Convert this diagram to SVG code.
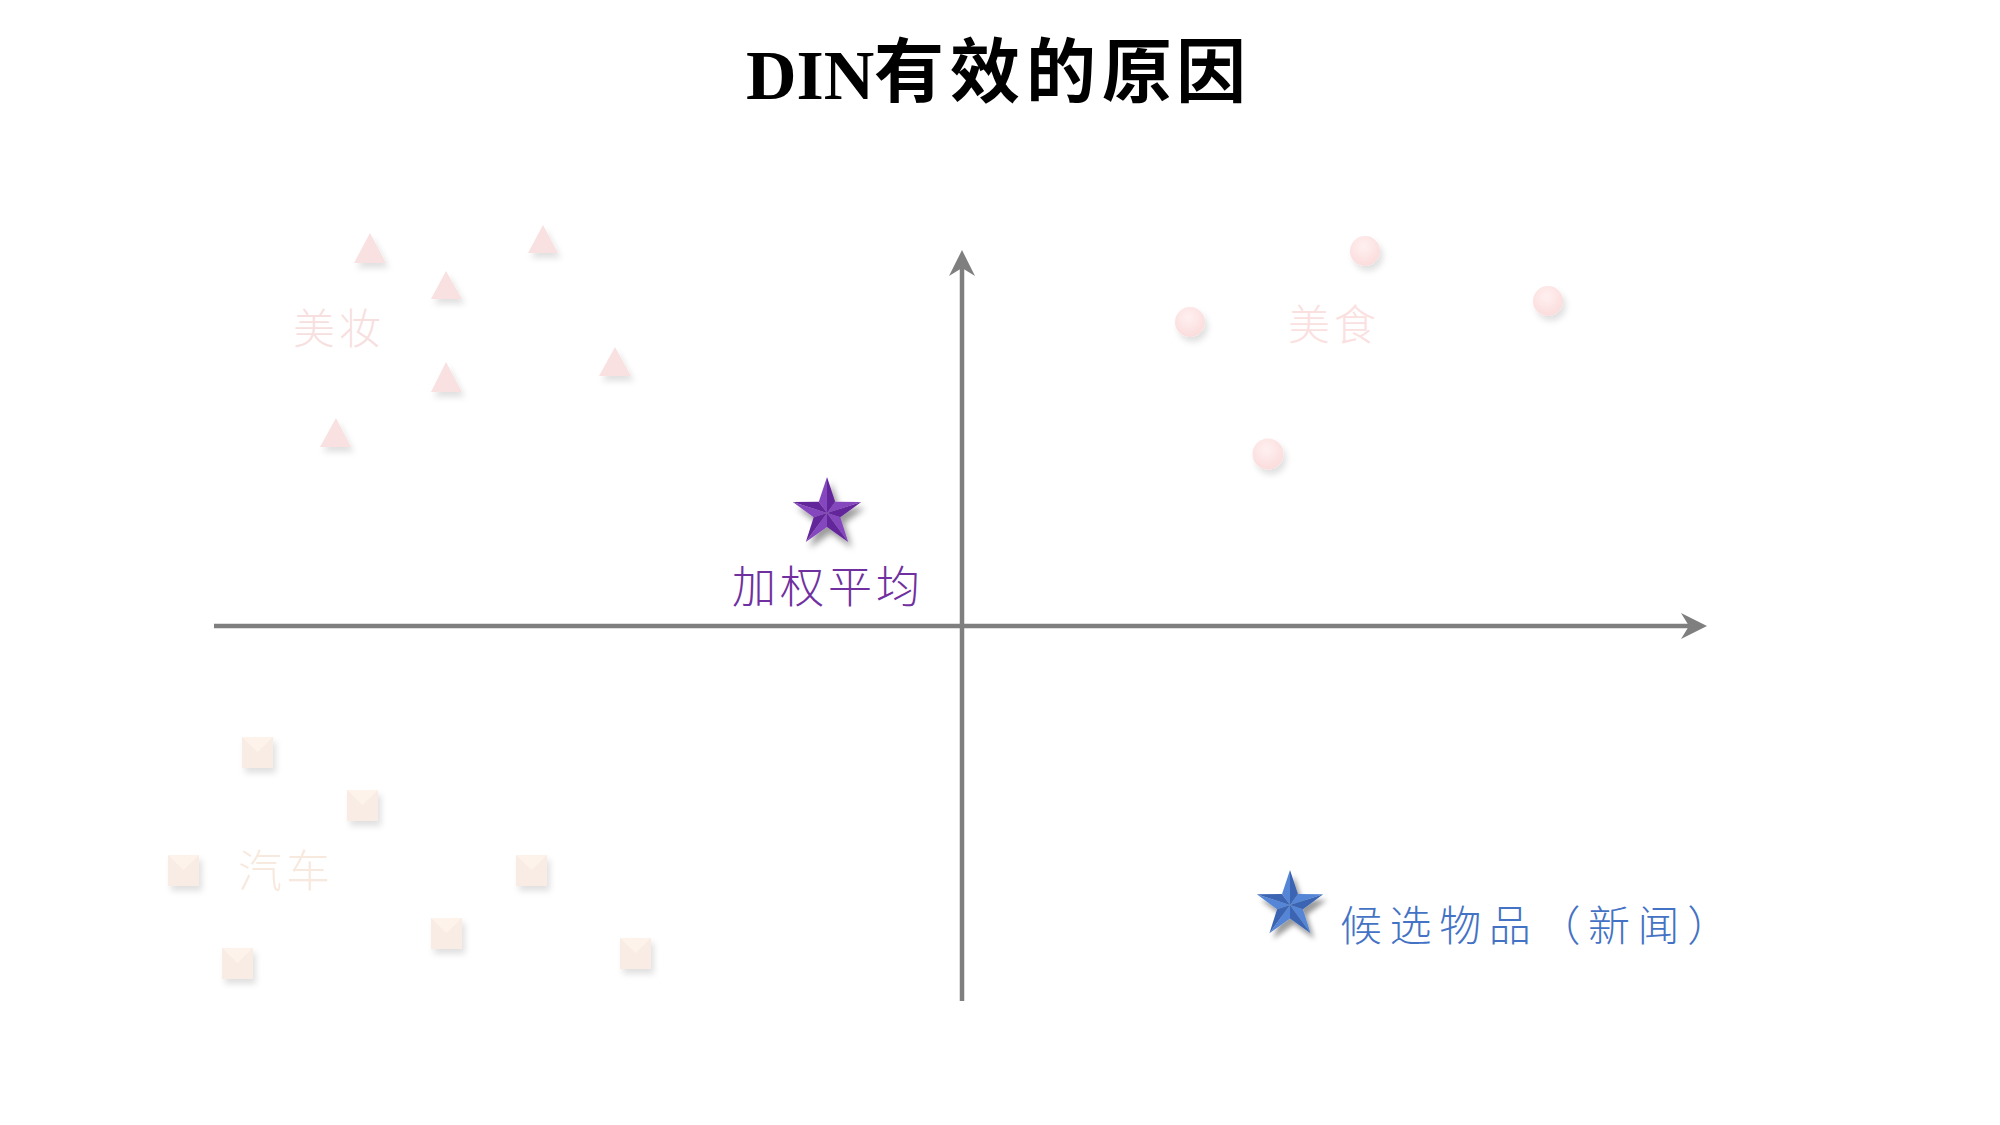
<svg xmlns="http://www.w3.org/2000/svg" width="2000" height="1125" viewBox="0 0 2000 1125">
<defs>
<style>
.title{font-family:"Liberation Serif","Noto Sans CJK SC",serif;font-weight:bold;fill:#000}
.tcjk{font-family:"Noto Sans CJK SC",sans-serif;font-weight:bold}
.cjk{font-family:"Noto Sans CJK SC",sans-serif;font-weight:300}
.axis{stroke:#7f7f7f;stroke-width:4.5;fill:none}
.head{fill:#7f7f7f}
.tri{fill:#f9e1e1}
.sq{fill:#f8ece5}
.sqt{fill:#fdf3ea}
.pl{fill:#8447bd}.pd{fill:#63269a}
.bl{fill:#5585d6}.bd{fill:#3a65b3}
</style>
<filter id="soft" x="-50%" y="-50%" width="200%" height="200%">
<feDropShadow dx="3" dy="5" stdDeviation="3" flood-color="#000" flood-opacity="0.12"/>
</filter>
<filter id="starsh" x="-50%" y="-50%" width="200%" height="200%">
<feDropShadow dx="4" dy="6" stdDeviation="3" flood-color="#000" flood-opacity="0.4"/>
</filter>
<radialGradient id="ball" cx="0.45" cy="0.35" r="0.65">
<stop offset="0" stop-color="#fff0f0"/>
<stop offset="1" stop-color="#fbdcdc"/>
</radialGradient>
<g id="starL">
<polygon points="0,0 -8.2,-11.3 0,-36"/>
<polygon points="0,0 8.2,-11.3 34.2,-11.1"/>
<polygon points="0,0 13.3,4.3 21.2,29.1"/>
<polygon points="0,0 0,14 -21.2,29.1"/>
<polygon points="0,0 -13.3,4.3 -34.2,-11.1"/>
</g>
<g id="starD">
<polygon points="0,0 0,-36 8.2,-11.3"/>
<polygon points="0,0 34.2,-11.1 13.3,4.3"/>
<polygon points="0,0 21.2,29.1 0,14"/>
<polygon points="0,0 -21.2,29.1 -13.3,4.3"/>
<polygon points="0,0 -34.2,-11.1 -8.2,-11.3"/>
</g>
</defs>
<rect width="2000" height="1125" fill="#fff"/>

<g id="title">
<text class="title" x="746" y="99" font-size="70">DIN</text>
<text class="tcjk" x="874 950 1026 1102 1176" y="97" font-size="70">有效的原因</text>
</g>

<g id="connectors">
<line class="axis" x1="214" y1="626" x2="1690" y2="626"/>
<polygon class="head" points="1707,626 1681,613 1689,626 1681,639"/>
<line class="axis" x1="962" y1="1001" x2="962" y2="266"/>
<polygon class="head" points="962,250 975,276 962,268 949,276"/>
</g>

<g id="group-meizhuang" filter="url(#soft)">
<polygon class="tri" points="370,233 386,263 354,263"/>
<polygon class="tri" points="543,225 558,253 528,253"/>
<polygon class="tri" points="446,271 462,299 431,299"/>
<polygon class="tri" points="615,347 631,376 599,376"/>
<polygon class="tri" points="446,362 462,392 431,392"/>
<polygon class="tri" points="336,418 351,447 320,447"/>
</g>
<g id="label-meizhuang"><text class="cjk" x="293" y="344" font-size="42" letter-spacing="4" fill="#f8dfdf">美妆</text></g>

<g id="group-meishi" filter="url(#soft)">
<circle cx="1365" cy="251" r="15" fill="url(#ball)"/>
<circle cx="1548" cy="301" r="15" fill="url(#ball)"/>
<circle cx="1190" cy="322" r="15" fill="url(#ball)"/>
<circle cx="1268" cy="454" r="15.5" fill="url(#ball)"/>
</g>
<g id="label-meishi"><text class="cjk" x="1288" y="340" font-size="42" letter-spacing="4" fill="#fbe0e0">美食</text></g>

<g id="group-qiche" filter="url(#soft)">
<g transform="translate(242,737)"><rect class="sq" width="31" height="31"/><polygon class="sqt" points="0,0 31,0 15.5,15"/></g>
<g transform="translate(347,790)"><rect class="sq" width="31" height="31"/><polygon class="sqt" points="0,0 31,0 15.5,15"/></g>
<g transform="translate(168,855)"><rect class="sq" width="31" height="31"/><polygon class="sqt" points="0,0 31,0 15.5,15"/></g>
<g transform="translate(516,855)"><rect class="sq" width="31" height="31"/><polygon class="sqt" points="0,0 31,0 15.5,15"/></g>
<g transform="translate(431,918)"><rect class="sq" width="31" height="31"/><polygon class="sqt" points="0,0 31,0 15.5,15"/></g>
<g transform="translate(222,948)"><rect class="sq" width="31" height="31"/><polygon class="sqt" points="0,0 31,0 15.5,15"/></g>
<g transform="translate(620,938)"><rect class="sq" width="31" height="31"/><polygon class="sqt" points="0,0 31,0 15.5,15"/></g>
</g>
<g id="label-qiche"><text class="cjk" x="238" y="887" font-size="44" letter-spacing="4" fill="#f8e9de">汽车</text></g>

<g id="star-weighted" filter="url(#starsh)" transform="translate(827,513)">
<use href="#starL" class="pl"/>
<use href="#starD" class="pd"/>
</g>
<g id="label-weighted"><text class="cjk" x="732" y="603" font-size="44" letter-spacing="4" fill="#7030a0">加权平均</text></g>

<g id="star-candidate" filter="url(#starsh)" transform="translate(1290,905) scale(0.97)">
<use href="#starL" class="bl"/>
<use href="#starD" class="bd"/>
</g>
<g id="label-candidate"><text class="cjk" x="1340" y="941" font-size="42" letter-spacing="7.6" fill="#4472c4">候选物品（新闻）</text></g>
</svg>
